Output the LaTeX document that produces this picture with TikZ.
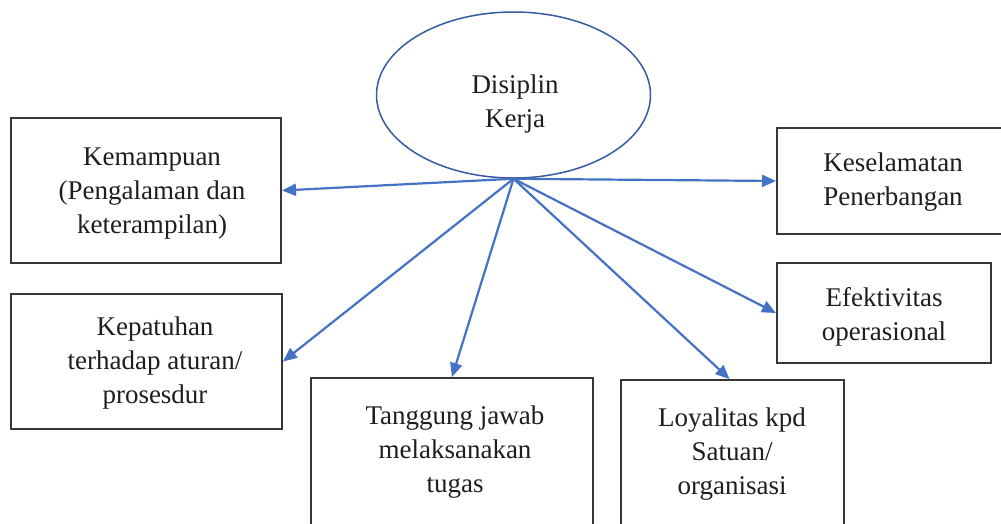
\documentclass[tikz,border=0pt]{standalone}
\usepackage{fontspec}
\setmainfont{Liberation Serif}
\usetikzlibrary{arrows.meta,shapes.geometric}
\definecolor{arrblue}{RGB}{68,114,196}
\definecolor{ellblue}{RGB}{55,90,160}
\definecolor{boxgray}{RGB}{55,55,55}
\definecolor{txtgray}{RGB}{30,30,30}
\begin{document}
\begin{tikzpicture}[x=1pt,y=-1pt,
  box/.style={draw=boxgray,line width=2pt,rectangle,inner sep=0pt,anchor=north west},
  lbl/.style={align=center,text=txtgray,font=\fontsize{27}{34}\selectfont,inner sep=0pt},
  arr/.style={draw=arrblue,line width=2.2pt,-{Triangle[length=14pt,width=12pt]}}]
\clip (0,0) rectangle (1001,523);
\fill[white] (0,0) rectangle (1001,523);
% central ellipse
\node[draw=ellblue,line width=1.5pt,ellipse,minimum width=274pt,minimum height=166pt,inner sep=0pt] (dk) at (513.5,95) {};
\node[lbl] (dkt) at (515,104) {Disiplin\\Kerja};
\coordinate (hub) at (dk.south);
% boxes
\node[box,minimum width=270pt,minimum height=145pt] (b1) at (10,117) {};
\node[box,minimum width=271pt,minimum height=135pt] (b2) at (10,293) {};
\node[box,minimum width=282pt,minimum height=170pt] (b3) at (310,377) {};
\node[box,minimum width=223pt,minimum height=170pt] (b4) at (620,379) {};
\node[box,minimum width=240pt,minimum height=106pt] (b5) at (776,127) {};
\node[box,minimum width=214pt,minimum height=100pt] (b6) at (776,262) {};
% labels
\node[lbl] (t1) at (152,194) {Kemampuan\\(Pengalaman dan\\keterampilan)};
\node[lbl] (t2) at (155,363) {Kepatuhan\\terhadap aturan/\\prosesdur};
\node[lbl] (t3) at (455,452) {Tanggung jawab\\melaksanakan\\tugas};
\node[lbl] (t4) at (732,454) {Loyalitas kpd\\Satuan/\\organisasi};
\node[lbl] (t5) at (893,182) {Keselamatan\\Penerbangan};
\node[lbl] (t6) at (884,317) {Efektivitas\\operasional};
% connectors
\draw[arr] (hub) -- (b1.east);
\draw[arr] (hub) -- (b2.east);
\draw[arr] (hub) -- (b3.north);
\draw[arr] (hub) -- ([xshift=-3pt]b4.north);
\draw[arr] (hub) -- (b5.west);
\draw[arr] (hub) -- (b6.west);
\end{tikzpicture}
\end{document}
